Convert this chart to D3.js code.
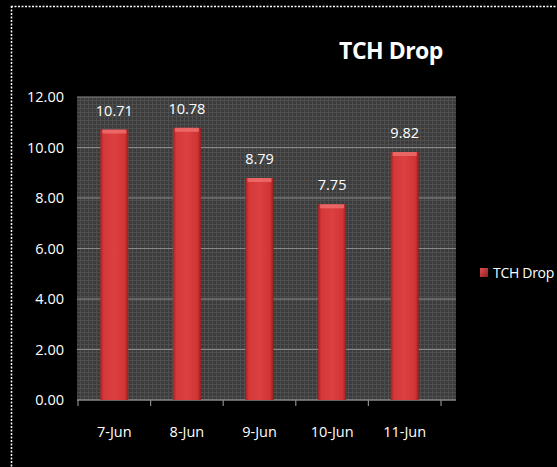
<!DOCTYPE html>
<html><head><meta charset="utf-8">
<script src="https://cdn.jsdelivr.net/npm/d3@7"></script>
<style>html,body{margin:0;padding:0;background:#000;}svg{display:block;}</style>
</head><body>
<script>
const categories = ["7-Jun","8-Jun","9-Jun","10-Jun","11-Jun"];
const values = [10.71, 10.78, 8.79, 7.75, 9.82];
const yTicks = [0,2,4,6,8,10,12];
const seriesName = "TCH Drop";
const title = "TCH Drop";

const W = 557, H = 467;
const svg = d3.select("body").append("svg").attr("width", W).attr("height", H);
svg.append("rect").attr("width", W).attr("height", H).attr("fill", "#000");

const font = "'Open Sans', 'DejaVu Sans Condensed', sans-serif";
const defs = svg.append("defs");
const pat = defs.append("pattern").attr("id","dots").attr("width",4).attr("height",4).attr("patternUnits","userSpaceOnUse");
pat.append("rect").attr("width",4).attr("height",4).attr("fill","#3c3c3c");
pat.append("rect").attr("width",1).attr("height",4).attr("fill","#4e4e4e");
pat.append("rect").attr("width",4).attr("height",1).attr("fill","#4e4e4e");

const barGrad = defs.append("linearGradient").attr("id","barg").attr("x1",0).attr("x2",1).attr("y1",0).attr("y2",0);
barGrad.append("stop").attr("offset","0%").attr("stop-color","#a82020");
barGrad.append("stop").attr("offset","12%").attr("stop-color","#d43838");
barGrad.append("stop").attr("offset","50%").attr("stop-color","#dc4040");
barGrad.append("stop").attr("offset","88%").attr("stop-color","#d03434");
barGrad.append("stop").attr("offset","100%").attr("stop-color","#9a1c1c");

const legGrad = defs.append("linearGradient").attr("id","legg").attr("x1",0).attr("x2",1).attr("y1",0).attr("y2",1);
legGrad.append("stop").attr("offset","0%").attr("stop-color","#e05050");
legGrad.append("stop").attr("offset","100%").attr("stop-color","#8a2020");

// dashed border top/left
svg.append("line").attr("x1",11).attr("x2",W).attr("y1",6.5).attr("y2",6.5)
  .attr("stroke","#fff").attr("stroke-width",1.5).attr("stroke-dasharray","2,1.5");
svg.append("line").attr("x1",11.5).attr("x2",11.5).attr("y1",6).attr("y2",H)
  .attr("stroke","#fff").attr("stroke-width",1.5).attr("stroke-dasharray","2,1.5");

const plot = {left:78, right:441, top:97, bottom:400, bgRight:456};
const x = d3.scaleBand().domain(categories).range([plot.left, plot.right]).paddingInner(0).paddingOuter(0);
const y = d3.scaleLinear().domain([0,12]).range([plot.bottom, plot.top]);

svg.append("rect").attr("x",77).attr("y",plot.top).attr("width",plot.bgRight-77).attr("height",plot.bottom-plot.top)
  .attr("fill","url(#dots)");

// gridlines
svg.append("g").selectAll("line").data(yTicks).join("line")
  .attr("x1",77).attr("x2",plot.bgRight).attr("y1",d=>y(d)).attr("y2",d=>y(d))
  .attr("stroke","#8a8a8a").attr("stroke-width",1.2);

// y axis labels
const yAxis = d3.axisLeft(y).tickValues(yTicks).tickFormat(d3.format(".2f")).tickSize(0).tickPadding(14);
const gy = svg.append("g").attr("transform",`translate(${plot.left},0)`).call(yAxis);
gy.select(".domain").remove();
gy.selectAll("text").attr("fill","#fff").attr("font-size",14.5).attr("font-family",font);

// x axis
const xAxis = d3.axisBottom(x).tickSize(0).tickPadding(27);
const gx = svg.append("g").attr("transform",`translate(0,${plot.bottom})`).call(xAxis);
gx.select(".domain").attr("stroke","#8a8a8a").attr("stroke-width",1.2).attr("d",`M77,0H${plot.bgRight}`);
gx.selectAll("text").attr("fill","#fff").attr("font-size",14.5).attr("font-family",font);
const bounds = categories.map(c=>x(c)).concat([x(categories[categories.length-1])+x.bandwidth()]);
svg.append("g").selectAll("line").data(bounds).join("line")
  .attr("x1",d=>d).attr("x2",d=>d).attr("y1",plot.bottom).attr("y2",plot.bottom+6)
  .attr("stroke","#8a8a8a").attr("stroke-width",1.2);

// bars
const bw = 28;
const bars = svg.append("g").selectAll("g").data(values).join("g");
bars.append("rect")
  .attr("x",(d,i)=>x(categories[i])+x.bandwidth()/2-bw/2)
  .attr("y",d=>y(d)).attr("width",bw).attr("height",d=>plot.bottom-y(d))
  .attr("fill","url(#barg)");
bars.append("rect")
  .attr("x",(d,i)=>x(categories[i])+x.bandwidth()/2-bw/2+2)
  .attr("y",d=>y(d)).attr("width",bw-4).attr("height",4)
  .attr("fill","#f07070").attr("opacity",0.8);

// labels
bars.append("text")
  .attr("x",(d,i)=>x(categories[i])+x.bandwidth()/2)
  .attr("y",d=>y(d)-14)
  .attr("text-anchor","middle").attr("fill","#fff").attr("font-size",14.5).attr("font-family",font)
  .text(d=>d3.format(".2f")(d));

// title
svg.append("text").attr("x",391).attr("y",59).attr("text-anchor","middle")
  .attr("fill","#fff").attr("font-size",23).attr("font-weight","bold").attr("font-family",font)
  .attr("letter-spacing",-0.5)
  .text(title);

// legend
svg.append("rect").attr("x",480).attr("y",268).attr("width",8).attr("height",9).attr("fill","url(#legg)");
svg.append("text").attr("x",493).attr("y",278).attr("fill","#fff").attr("font-size",14).attr("font-family",font)
  .attr("letter-spacing",-0.3).text(seriesName);
</script>
</body></html>
